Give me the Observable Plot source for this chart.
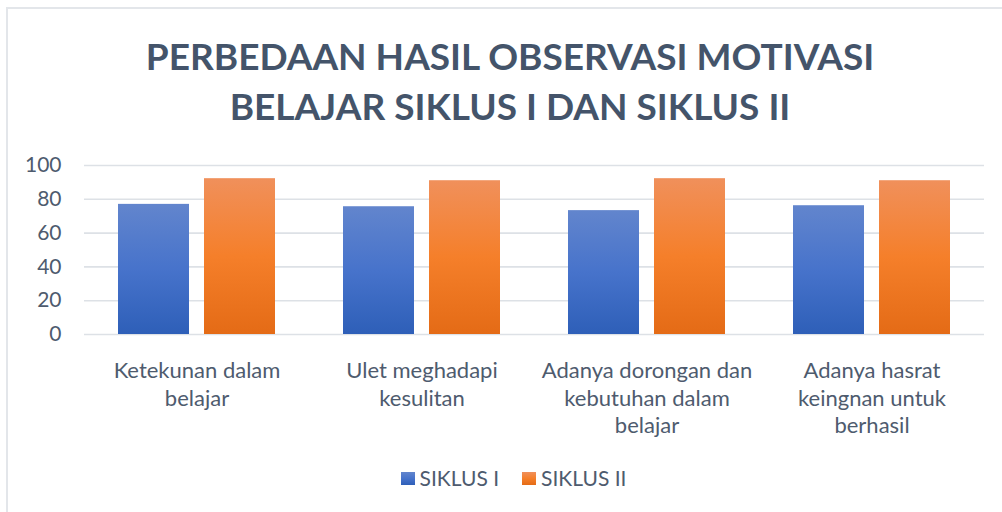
<!DOCTYPE html>
<html>
<head>
<meta charset="utf-8">
<script src="https://cdn.jsdelivr.net/npm/d3@7"></script>
<script src="https://cdn.jsdelivr.net/npm/@observablehq/plot@0.6"></script>
<style>
  html, body { margin: 0; padding: 0; background: #fff; }
  #wrap { position: relative; width: 1002px; height: 512px; overflow: hidden; font-family: Lato, "Open Sans", sans-serif; }
  #frame { position: absolute; left: 6px; top: 7px; right: -10px; bottom: -10px; border-left: 2px solid #e3e6ea; border-top: 2px solid #e3e6ea; }
  #title { position: absolute; top: 31px; left: 0; width: 1002px; padding-left: 18px; box-sizing: border-box; text-align: center; font-weight: 700; font-size: 37px; line-height: 50px; color: #44546A; }
  #chart { position: absolute; top: 140px; left: 0; }
  #legend { position: absolute; top: 464px; left: 0; width: 1002px; padding-left: 25px; box-sizing: border-box; display: flex; justify-content: center; gap: 23px; font-size: 21px; color: #4E5B6E; line-height: 28px; }
  .item { display: flex; align-items: center; gap: 5px; }
  .sw { width: 14px; height: 13px; display: inline-block; }
</style>
</head>
<body>
<div id="wrap">
  <div id="frame"></div>
  <div id="title">PERBEDAAN HASIL OBSERVASI MOTIVASI<br>BELAJAR SIKLUS I DAN SIKLUS II</div>
  <div id="chart"></div>
  <div id="legend"></div>
</div>
<script>
const categories = [
  "Ketekunan dalam\nbelajar",
  "Ulet meghadapi\nkesulitan",
  "Adanya dorongan dan\nkebutuhan dalam\nbelajar",
  "Adanya hasrat\nkeingnan untuk\nberhasil"
];
const seriesNames = ["SIKLUS I", "SIKLUS II"];
const siklus1 = [77, 75.6, 73.3, 76.2];
const siklus2 = [92.2, 91, 92.2, 91];
const yTicks = [0, 20, 40, 60, 80, 100];

const gradients = {
  "SIKLUS I": ["#6285CD", "#4773CB", "#2E5FB8"],
  "SIKLUS II": ["#F0905B", "#F57F2A", "#E46B16"]
};
const gradIds = {"SIKLUS I": "gBlue", "SIKLUS II": "gOrange"};

const data = [];
categories.forEach((c, i) => {
  data.push({category: c, series: seriesNames[0], value: siklus1[i]});
  data.push({category: c, series: seriesNames[1], value: siklus2[i]});
});

const textColor = "#4E5B6E";

const chart = Plot.plot({
  width: 1002,
  height: 312,
  marginLeft: 83,
  marginRight: 17,
  marginTop: 25,
  marginBottom: 118,
  style: {fontFamily: "Lato, 'Open Sans', sans-serif", background: "transparent"},
  fx: {domain: categories, padding: 0},
  x: {domain: seriesNames, paddingInner: 0.174, paddingOuter: 0.395, axis: null},
  y: {domain: [0, 100]},
  marks: [
    Plot.gridY(yTicks, {stroke: "#dde1e6", strokeOpacity: 1, strokeWidth: 1.6}),
    Plot.axisY(yTicks, {tickSize: 0, tickPadding: 23, fontSize: 21, fill: textColor, label: null}),
    Plot.axisFx({anchor: "bottom", tickSize: 0, tickPadding: 24, fontSize: 22, lineHeight: 1.25, fill: textColor, label: null}),
    ...seriesNames.map(s => Plot.barY(data.filter(d => d.series === s), {
      fx: "category", x: "series", y: "value", fill: `url(#${gradIds[s]})`
    }))
  ]
});

const svg = chart.tagName.toLowerCase() === "svg" ? chart : chart.querySelector("svg");
const ns = "http://www.w3.org/2000/svg";
const defs = document.createElementNS(ns, "defs");
for (const s of seriesNames) {
  const g = document.createElementNS(ns, "linearGradient");
  g.setAttribute("id", gradIds[s]);
  g.setAttribute("x1", "0"); g.setAttribute("y1", "0");
  g.setAttribute("x2", "0"); g.setAttribute("y2", "1");
  gradients[s].forEach((col, i, arr) => {
    const st = document.createElementNS(ns, "stop");
    st.setAttribute("offset", String(i / (arr.length - 1)));
    st.setAttribute("stop-color", col);
    g.appendChild(st);
  });
  defs.appendChild(g);
}
svg.insertBefore(defs, svg.firstChild);
document.getElementById("chart").appendChild(chart);

const legend = document.getElementById("legend");
for (const s of seriesNames) {
  const item = document.createElement("div");
  item.className = "item";
  const sw = document.createElement("span");
  sw.className = "sw";
  const [a, b, c] = gradients[s];
  sw.style.background = `linear-gradient(${a}, ${b}, ${c})`;
  const t = document.createElement("span");
  t.textContent = s;
  item.appendChild(sw);
  item.appendChild(t);
  legend.appendChild(item);
}
</script>
</body>
</html>
